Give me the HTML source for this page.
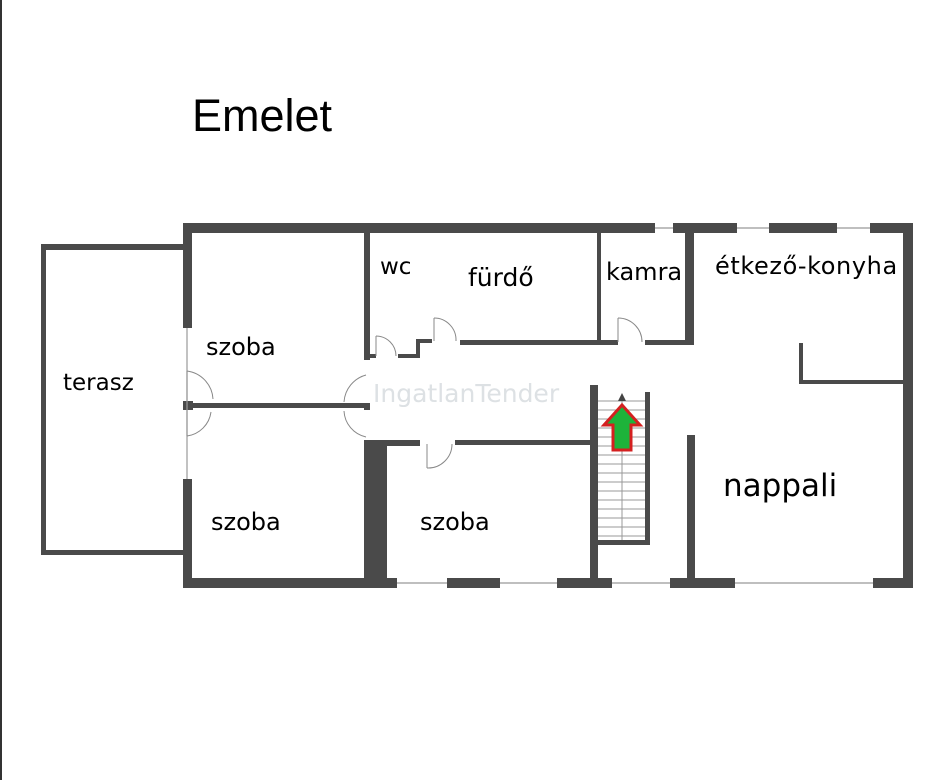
<!DOCTYPE html>
<html><head><meta charset="utf-8"><style>
html,body{margin:0;padding:0;background:#fff;}
svg{display:block;}
text{font-family:"DejaVu Sans","Liberation Sans",sans-serif;fill:#000;}
</style></head><body>
<svg width="948" height="780" viewBox="0 0 948 780" xmlns="http://www.w3.org/2000/svg">
<rect x="0" y="0" width="948" height="780" fill="#fff"/>
<rect x="0" y="0" width="2" height="780" fill="#333"/>
<text x="192" y="131" font-size="45" style="font-family:'Liberation Sans','DejaVu Sans',sans-serif">Emelet</text>
<g fill="#4a4a4a">
<rect x="41" y="244" width="142" height="6"/>
<rect x="41" y="244" width="5" height="311"/>
<rect x="41" y="550" width="142" height="5"/>
<rect x="183" y="223" width="472" height="10"/>
<rect x="673" y="223" width="64" height="10"/>
<rect x="769" y="223" width="68" height="10"/>
<rect x="870" y="223" width="43" height="10"/>
<rect x="903" y="223" width="10" height="365"/>
<rect x="183" y="223" width="9" height="105"/>
<rect x="183" y="401" width="10" height="9"/>
<rect x="183" y="479" width="9" height="109"/>
<rect x="183" y="578" width="214" height="10"/>
<rect x="447" y="578" width="53" height="10"/>
<rect x="557" y="578" width="55" height="10"/>
<rect x="670" y="578" width="65" height="10"/>
<rect x="873" y="578" width="40" height="10"/>
<rect x="364" y="233" width="6" height="127"/>
<rect x="183" y="403" width="187" height="5"/>
<rect x="364" y="404" width="6" height="6"/>
<rect x="364" y="440" width="23" height="148"/>
<rect x="364" y="440" width="56" height="6"/>
<rect x="455" y="440" width="135" height="5"/>
<rect x="590" y="385" width="8" height="203"/>
<rect x="645" y="392" width="5" height="153"/>
<rect x="598" y="540" width="52" height="5"/>
<rect x="370" y="354" width="6" height="4"/>
<rect x="398" y="354" width="22" height="4"/>
<rect x="416" y="339" width="4" height="19"/>
<rect x="416" y="339" width="16" height="4"/>
<rect x="460" y="340" width="158" height="5"/>
<rect x="645" y="340" width="49" height="5"/>
<rect x="597" y="233" width="4" height="112"/>
<rect x="685" y="233" width="9" height="112"/>
<rect x="687" y="435" width="8" height="153"/>
<rect x="799" y="343" width="4" height="41"/>
<rect x="799" y="380" width="106" height="4"/>
</g>
<g stroke="#999" stroke-width="1.2" fill="none">
<line x1="655" y1="228" x2="673" y2="228"/>
<line x1="737" y1="228" x2="769" y2="228"/>
<line x1="837" y1="228" x2="870" y2="228"/>
<line x1="397" y1="583" x2="447" y2="583"/>
<line x1="500" y1="583" x2="557" y2="583"/>
<line x1="612" y1="583" x2="670" y2="583"/>
<line x1="735" y1="583" x2="873" y2="583"/>
<line x1="187" y1="328" x2="187" y2="479"/>
</g>
<g stroke="#888" stroke-width="1" fill="none">
<line x1="187" y1="371" x2="187" y2="401"/><path d="M187 371 A30 30 0 0 1 213 399"/>
<line x1="187" y1="410" x2="187" y2="436"/><path d="M187 436 A28 28 0 0 0 211 412"/>
<path d="M366 375 A30 30 0 0 0 344 402"/><path d="M366 437 A28 28 0 0 1 344 411"/>
<line x1="376" y1="336" x2="376" y2="356"/><path d="M376 336 A20 20 0 0 1 396 356"/>
<line x1="434" y1="318" x2="434" y2="341"/><path d="M434 318 A22 22 0 0 1 456 341"/>
<line x1="618" y1="318" x2="618" y2="342"/><path d="M618 318 A24 24 0 0 1 642 342"/>
<line x1="427" y1="468" x2="427" y2="444"/><path d="M427 468 A24 24 0 0 0 452 444"/>
</g>
<g stroke="#999" stroke-width="1">
<line x1="622" y1="400" x2="622" y2="540"/>
<line x1="598" y1="401" x2="645" y2="401"/><line x1="598" y1="410" x2="645" y2="410"/>
<line x1="598" y1="419" x2="645" y2="419"/><line x1="598" y1="428" x2="645" y2="428"/>
<line x1="598" y1="437" x2="645" y2="437"/><line x1="598" y1="446" x2="645" y2="446"/>
<line x1="598" y1="455" x2="645" y2="455"/><line x1="598" y1="464" x2="645" y2="464"/>
<line x1="598" y1="473" x2="645" y2="473"/><line x1="598" y1="482" x2="645" y2="482"/>
<line x1="598" y1="491" x2="645" y2="491"/><line x1="598" y1="500" x2="645" y2="500"/>
<line x1="598" y1="509" x2="645" y2="509"/><line x1="598" y1="518" x2="645" y2="518"/>
<line x1="598" y1="527" x2="645" y2="527"/><line x1="598" y1="536" x2="645" y2="536"/>
</g>
<polygon points="622,393 618,401 626,401" fill="#444"/>
<polygon points="622,405 604,425 613,425 613,450 631,450 631,425 640,425" fill="#1db33a" stroke="#d42020" stroke-width="3" stroke-linejoin="miter"/>
<text x="373" y="402" font-size="25" style="fill:#dde1e4">IngatlanTender</text>
<text x="63" y="390" font-size="23">terasz</text>
<text x="206" y="355" font-size="24">szoba</text>
<text x="211" y="530" font-size="24">szoba</text>
<text x="420" y="530" font-size="24">szoba</text>
<text x="380" y="274" font-size="23">wc</text>
<text x="468" y="286" font-size="25">fürdő</text>
<text x="606" y="280" font-size="24">kamra</text>
<text x="715" y="274" font-size="24" letter-spacing="0.6">étkező-konyha</text>
<text x="723" y="496" font-size="31">nappali</text>
</svg>
</body></html>
